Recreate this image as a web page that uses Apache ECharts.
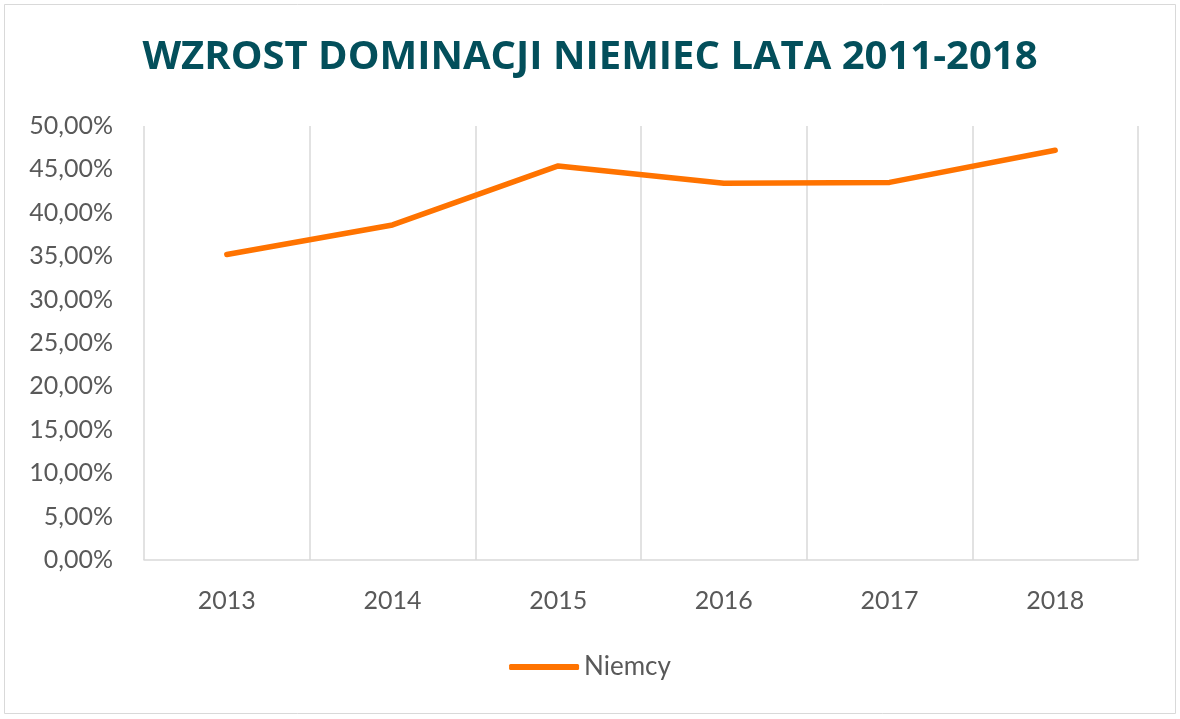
<!DOCTYPE html>
<html><head><meta charset="utf-8">
<script src="https://cdn.jsdelivr.net/npm/echarts@6/dist/echarts.min.js"></script>
<style>html,body{margin:0;padding:0;background:#fff}#c{width:1180px;height:719px}</style>
</head><body><div id="c"></div>
<script>
const titleText = 'WZROST DOMINACJI NIEMIEC LATA 2011-2018';
const categories = ['2013', '2014', '2015', '2016', '2017', '2018'];
const seriesName = 'Niemcy';
const values = [35.2, 38.6, 45.4, 43.4, 43.5, 47.2];
const yMin = 0, yMax = 50, yStep = 5;

const chart = echarts.init(document.getElementById('c'));
chart.setOption({
  animation: false,
  backgroundColor: '#fff',
  title: {
    text: titleText, left: 'center', top: 33,
    textStyle: { fontFamily: 'Open Sans', fontWeight: 'bold', fontSize: 40, color: '#034F5B' }
  },
  graphic: [{ type: 'rect', shape: { x: 4.5, y: 4.5, width: 1171, height: 709 }, style: { fill: 'none', stroke: '#d9d9d9', lineWidth: 1 }, silent: true }],
  legend: {
    bottom: 34, left: 'center', icon: 'roundRect', itemWidth: 70, itemHeight: 6, itemGap: 6,
    data: [seriesName],
    textStyle: { fontFamily: 'Lato', fontSize: 26, color: '#595959' }
  },
  grid: { left: 144, right: 42, top: 126, bottom: 159, containLabel: false },
  xAxis: {
    type: 'category', data: categories, boundaryGap: true,
    axisLine: { show: true, lineStyle: { color: '#d9d9d9', width: 1.5 } },
    axisTick: { show: false },
    splitLine: { show: true, lineStyle: { color: '#d9d9d9', width: 1.5 } },
    axisLabel: { fontFamily: 'Lato', fontSize: 25, color: '#595959', margin: 28 }
  },
  yAxis: {
    type: 'value', min: yMin, max: yMax, interval: yStep,
    axisLine: { show: false }, axisTick: { show: false }, splitLine: { show: false },
    axisLabel: { fontFamily: 'Lato', fontSize: 25, color: '#595959', margin: 31,
      formatter: v => v.toFixed(2).replace('.', ',') + '%' }
  },
  series: [{
    name: seriesName, type: 'line', data: values, symbol: 'none',
    lineStyle: { color: '#FF7300', width: 5.5, cap: 'round', join: 'round' },
    itemStyle: { color: '#FF7300' }
  }]
});
</script></body></html>
